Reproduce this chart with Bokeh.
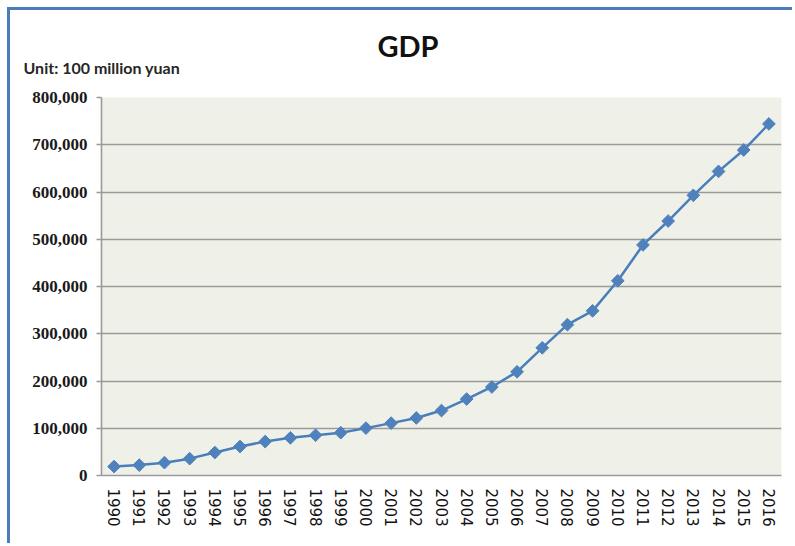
from bokeh.plotting import figure
from bokeh.models import (FactorRange, Range1d, FixedTicker, NumeralTickFormatter,
                          Title, ColumnDataSource)
from bokeh.embed import file_html
from bokeh.resources import INLINE
import math

years = [str(y) for y in range(1990, 2017)]
gdp = [18873, 22006, 27195, 35673, 48638, 61340, 71814, 79715, 85196, 90564,
       100280, 110863, 121717, 137422, 161840, 187319, 219439, 270232, 319244,
       348517, 412119, 487940, 538580, 592963, 643563, 688858, 744127]
y_ticks = [0, 100000, 200000, 300000, 400000, 500000, 600000, 700000, 800000]
title_text = "GDP"
unit_text = "Unit: 100 million yuan"

src = ColumnDataSource(dict(year=years, gdp=gdp))

p = figure(width=785, height=536, output_backend="svg", toolbar_location=None,
           title=None,
           x_range=FactorRange(*years, range_padding=0),
           y_range=Range1d(0, 800000),
           min_border_left=91, min_border_right=14, min_border_top=87,
           min_border_bottom=71)
p.styles = {"margin-left": "7px", "margin-top": "7px",
            "border-left": "3px solid #4a7ebb", "border-top": "3px solid #4a7ebb"}

p.background_fill_color = "#eff1e9"
p.border_fill_color = "white"
p.outline_line_color = None

p.line("year", "gdp", source=src, line_color="#4a7ebb", line_width=2.5)
p.scatter("year", "gdp", source=src, marker="square", angle=math.pi / 4, size=9,
          fill_color="#4f81bd", line_color="#4f81bd", line_width=1)

p.xgrid.grid_line_color = None
p.ygrid.grid_line_color = "#9a9a9a"
p.ygrid.grid_line_width = 1.6

ya = p.yaxis[0]
ya.ticker = FixedTicker(ticks=y_ticks)
ya.formatter = NumeralTickFormatter(format="0,0")
ya.axis_line_color = "#9a9a9a"
ya.axis_line_width = 1.6
ya.major_tick_line_color = "#9a9a9a"
ya.major_tick_line_width = 1.6
ya.major_tick_out = 5
ya.major_tick_in = 0
ya.minor_tick_line_color = None
ya.major_label_standoff = 9
ya.major_label_text_font = "Liberation Serif"
ya.major_label_text_font_style = "bold"
ya.major_label_text_font_size = "17px"
ya.major_label_text_color = "#1a1a1a"

xa = p.xaxis[0]
xa.axis_line_color = "#9a9a9a"
xa.axis_line_width = 1.6
xa.major_tick_line_color = None
xa.major_tick_out = 0
xa.major_tick_in = 0
xa.minor_tick_line_color = None
xa.major_label_orientation = "vertical"
xa.major_label_standoff = 13
xa.major_label_text_font = "DejaVu Sans"
xa.major_label_text_font_size = "15px"
xa.major_label_text_color = "#111111"

p.add_layout(Title(text=unit_text, align="left", offset=-78, standoff=41,
                   text_font="Lato", text_font_style="bold",
                   text_font_size="16px", text_color="#262626"), "above")
p.add_layout(Title(text=title_text, align="left", offset=276, standoff=-55,
                   text_font="Lato", text_font_style="bold",
                   text_font_size="29px", text_color="#111111"), "above")

open("out.html", "w").write(file_html(p, INLINE))
